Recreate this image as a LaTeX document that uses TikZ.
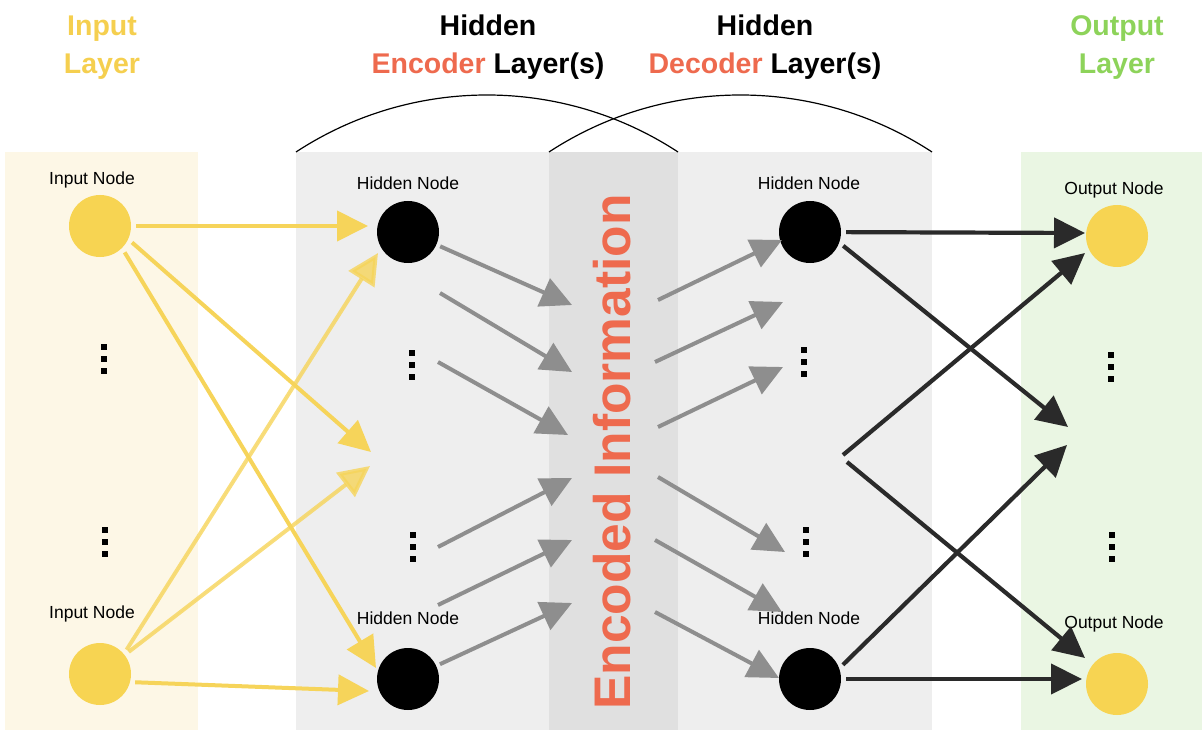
\documentclass[tikz,border=0pt]{standalone}
\usepackage{fontspec}
\setmainfont{Liberation Sans}
\usetikzlibrary{arrows.meta}
\definecolor{inpanel}{HTML}{FDF7E6}
\definecolor{graypanel}{HTML}{EEEEEE}
\definecolor{bandgray}{HTML}{E0E0E0}
\definecolor{outpanel}{HTML}{EAF6E3}
\definecolor{ttlyellow}{HTML}{F5CF4F}
\definecolor{ttlgreen}{HTML}{8DD35A}
\definecolor{ttlred}{HTML}{EE6A4E}
\definecolor{nodeyellow}{HTML}{F7D452}
\definecolor{arryellow}{HTML}{F6D45A}
\definecolor{arrgray}{HTML}{8E8E8E}
\definecolor{arrdark}{HTML}{2A2A2A}
\begin{document}
\begin{tikzpicture}[x=1pt,y=-1pt,
  title/.style={font=\fontsize{28.5}{34}\selectfont\bfseries, anchor=base, inner sep=0},
  lbl/.style={font=\fontsize{17.5}{20}\selectfont, anchor=base, inner sep=0},
  ynode/.style={circle, fill=nodeyellow, minimum size=62pt, inner sep=0},
  bnode/.style={circle, fill=black, minimum size=62pt, inner sep=0},
  tip/.style={-{Triangle[length=31pt,width=30pt]}},
  yarrow/.style={tip, draw=arryellow, fill=arryellow, line width=4pt, shorten <=5pt},
  garrow/.style={tip, draw=arrgray, fill=arrgray, line width=4pt},
  darrow/.style={tip, draw=arrdark, fill=arrdark, line width=4.2pt, shorten <=5pt},
  pics/sqdots/.style={code={\foreach \dy in {-12,0,12} \fill (-3,\dy-3) rectangle (3,\dy+3);}}
]
\useasboundingbox (0,0) rectangle (1202,730);
% panels
\fill[inpanel] (5,152) rectangle (198,730);
\fill[graypanel] (296,152) rectangle (932,730);
\fill[bandgray] (549,152) rectangle (678,730);
\fill[outpanel] (1021,152) rectangle (1202,730);
% arcs
\coordinate (encL) at (296,152); \coordinate (encR) at (678,152);
\coordinate (decL) at (549,152); \coordinate (decR) at (932,152);
\draw[line width=1.2pt] (encL) .. controls (412,76) and (562,76) .. (encR);
\draw[line width=1.2pt] (decL) .. controls (665,76) and (816,76) .. (decR);
% titles
\node[title, text=ttlyellow] (t1a) at (102,36) {Input};
\node[title, text=ttlyellow] (t1b) at (102,74) {Layer};
\node[title] (t2a) at (488,36) {Hidden};
\node[title] (t2b) at (488,74) {\textcolor{ttlred}{Encoder} Layer(s)};
\node[title] (t3a) at (765,36) {Hidden};
\node[title] (t3b) at (765,74) {\textcolor{ttlred}{Decoder} Layer(s)};
\node[title, text=ttlgreen] (t4a) at (1117,36) {Output};
\node[title, text=ttlgreen] (t4b) at (1117,74) {Layer};
% encoded information
\node[rotate=90, text=ttlred, font=\fontsize{51.5}{60}\selectfont\bfseries, inner sep=0] (enc) at (612,452) {Encoded Information};
% node labels
\node[lbl] (l1) at (92,185) {Input Node};
\node[lbl] (l2) at (92,618) {Input Node};
\node[lbl] (l3) at (408,190) {Hidden Node};
\node[lbl] (l4) at (408,624) {Hidden Node};
\node[lbl] (l5) at (809,190) {Hidden Node};
\node[lbl] (l6) at (809,624) {Hidden Node};
\node[lbl] (l7) at (1114,195) {Output Node};
\node[lbl] (l8) at (1114,628) {Output Node};
% circles
\node[ynode] (in1) at (100,226) {};
\node[ynode] (in2) at (100,674) {};
\node[bnode] (e1) at (408,232) {};
\node[bnode] (e2) at (408,679) {};
\node[bnode] (d1) at (810,232) {};
\node[bnode] (d2) at (810,679) {};
\node[ynode] (o1) at (1117,236) {};
\node[ynode] (o2) at (1117,684) {};
% dots
\pic at (104,359) {sqdots};
\pic at (105,542) {sqdots};
\pic at (412,365) {sqdots};
\pic at (413,547) {sqdots};
\pic at (804,362) {sqdots};
\pic at (806,542) {sqdots};
\pic at (1111,367) {sqdots};
\pic at (1112,547) {sqdots};
% yellow arrows
\coordinate (ya) at (368,226);
\coordinate (yb) at (371,452);
\coordinate (yc) at (376,668);
\coordinate (yd) at (369,691);
\coordinate (ye) at (370,466);
\coordinate (yf) at (378,253);
\draw[yarrow] (in1) -- (ya);
\draw[yarrow] (in1.-25) -- (yb);
\draw[yarrow] (in1.-45) -- (yc);
\draw[yarrow] (in2.-15) -- (yd);
\draw[yarrow, opacity=0.8] (in2) -- (ye);
\draw[yarrow, opacity=0.8] (in2.40) -- (yf);
% gray encoder arrows
\coordinate (gs2) at (440,293); \coordinate (gs3) at (438,362);
\coordinate (gs4) at (438,547); \coordinate (gs5) at (438,605);
\coordinate (gt1) at (572,305); \coordinate (gt2) at (572,372); \coordinate (gt3) at (568,435);
\coordinate (gt4) at (572,478); \coordinate (gt5) at (572,540); \coordinate (gt6) at (572,603);
\draw[garrow, shorten <=4pt] (e1) -- (gt1);
\draw[garrow] (gs2) -- (gt2);
\draw[garrow] (gs3) -- (gt3);
\draw[garrow] (gs4) -- (gt4);
\draw[garrow] (gs5) -- (gt5);
\draw[garrow, shorten <=4pt] (e2) -- (gt6);
% gray decoder arrows
\coordinate (hs1) at (658,300); \coordinate (hs2) at (655,362); \coordinate (hs3) at (658,427);
\coordinate (hs4) at (658,477); \coordinate (hs5) at (655,540); \coordinate (hs6) at (655,612);
\coordinate (ht1) at (782,240); \coordinate (ht2) at (783,302); \coordinate (ht3) at (783,367);
\coordinate (ht4) at (785,552); \coordinate (ht5) at (782,612); \coordinate (ht6) at (779,678);
\draw[garrow] (hs1) -- (ht1);
\draw[garrow] (hs2) -- (ht2);
\draw[garrow] (hs3) -- (ht3);
\draw[garrow] (hs4) -- (ht4);
\draw[garrow] (hs5) -- (ht5);
\draw[garrow] (hs6) -- (ht6);
% dark arrows
\coordinate (ks3) at (843,455); \coordinate (ks4) at (847,462);
\coordinate (kt1) at (1085,233); \coordinate (kt2) at (1068,427); \coordinate (kt3) at (1085,253);
\coordinate (kt4) at (1085,658); \coordinate (kt5) at (1082,679); \coordinate (kt6) at (1067,445);
\draw[darrow] (d1) -- (kt1);
\draw[darrow] (d1.-20) -- (kt2);
\draw[darrow, shorten <=0pt] (ks3) -- (kt3);
\draw[darrow, shorten <=0pt] (ks4) -- (kt4);
\draw[darrow] (d2) -- (kt5);
\draw[darrow] (d2.20) -- (kt6);
\end{tikzpicture}
\end{document}
